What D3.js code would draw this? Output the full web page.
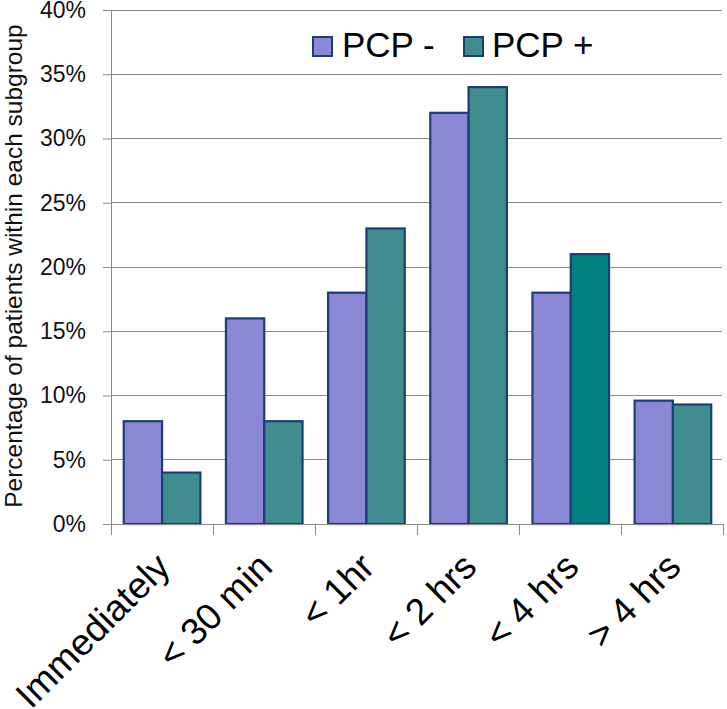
<!DOCTYPE html>
<html>
<head>
<meta charset="utf-8">
<script src="https://cdn.jsdelivr.net/npm/d3@7"></script>
<style>
  html, body { margin: 0; padding: 0; background: #fff; }
  svg { display: block; font-family: "Liberation Sans", Arial, sans-serif; }
</style>
</head>
<body>
<svg id="chart" width="727" height="709"></svg>
<script>
const categories = ["Immediately", "< 30 min", "< 1hr", "< 2 hrs", "< 4 hrs", "> 4 hrs"];
const seriesNames = ["PCP -", "PCP +"];
const pcpMinus = [8, 16, 18, 32, 18, 9.6];
const pcpPlus = [4, 8, 23, 34, 21, 9.3];
const yTicks = [0, 5, 10, 15, 20, 25, 30, 35, 40];
const yTitle = "Percentage of patients within each subgroup";

const colors = { "PCP -": "#8b88d6", "PCP +": "#3f8d8e" };
const highlightColor = "#008080";
const strokeColor = "#1b3f73";

const svg = d3.select("#chart");
const W = 727, H = 709;
const m = { left: 111, right: 3, top: 10, bottom: 185 };
const pw = W - m.left - m.right, ph = H - m.top - m.bottom;

const g = svg.append("g").attr("transform", `translate(${m.left},${m.top})`);

const x0 = d3.scaleBand().domain(categories).range([0, pw]).paddingInner(0.25).paddingOuter(0.125);
const x1 = d3.scaleBand().domain(seriesNames).range([0, x0.bandwidth()]).padding(0);
const y = d3.scaleLinear().domain([0, 40]).range([ph, 0]);

// gridlines
g.append("g").selectAll("line").data(yTicks.filter(d => d > 0)).join("line")
  .attr("x1", 0).attr("x2", pw - 2)
  .attr("y1", d => y(d)).attr("y2", d => y(d))
  .attr("stroke", "#8c8c8c").attr("stroke-width", 1).attr("shape-rendering", "crispEdges");

// y axis
const yAxis = g.append("g").call(d3.axisLeft(y).tickValues(yTicks).tickFormat(d => d + "%").tickSize(8).tickPadding(17));
yAxis.select(".domain").attr("stroke", "#8c8c8c");
yAxis.selectAll(".tick line").attr("stroke", "#8c8c8c");
yAxis.selectAll(".tick text").attr("font-size", 23).attr("fill", "#111").attr("font-family", "Liberation Sans, Arial, sans-serif");

// bars
const data = categories.map((c, i) => ({ cat: c, vals: [
  { s: "PCP -", v: pcpMinus[i] }, { s: "PCP +", v: pcpPlus[i] } ] }));

const groups = g.append("g").selectAll("g").data(data).join("g")
  .attr("transform", d => `translate(${x0(d.cat)},0)`);
groups.selectAll("rect").data(d => d.vals.map(v => ({ ...v, cat: d.cat }))).join("rect")
  .attr("x", d => x1(d.s))
  .attr("y", d => y(d.v))
  .attr("width", x1.bandwidth())
  .attr("height", d => y(0) - y(d.v))
  .attr("fill", d => (d.cat === "< 4 hrs" && d.s === "PCP +") ? highlightColor : colors[d.s])
  .attr("stroke", strokeColor).attr("stroke-width", 2.2);

// x axis
const xAxisG = g.append("g").attr("transform", `translate(0,${ph})`);
xAxisG.append("line").attr("x1", 0).attr("x2", pw).attr("y1", 0).attr("y2", 0)
  .attr("stroke", "#8c8c8c").attr("shape-rendering", "crispEdges");
const step = x0.step();
const boundaries = d3.range(categories.length + 1).map(i => i * step);
xAxisG.selectAll("line.tk").data(boundaries).join("line").attr("class", "tk")
  .attr("x1", d => Math.min(d, pw - 1)).attr("x2", d => Math.min(d, pw - 1))
  .attr("y1", 0).attr("y2", 11)
  .attr("stroke", "#8c8c8c").attr("shape-rendering", "crispEdges");

xAxisG.selectAll("text.lbl").data(categories).join("text").attr("class", "lbl")
  .attr("transform", d => `translate(${x0(d) + x0.bandwidth() / 2 + 10},45) rotate(-45)`)
  .attr("text-anchor", "end")
  .attr("font-size", 37)
  .attr("fill", "#000")
  .text(d => d);

// y title
svg.append("text")
  .attr("transform", `translate(22,${(20 + 512) / 2}) rotate(-90)`)
  .attr("text-anchor", "middle")
  .attr("font-size", 24.5)
  .attr("fill", "#111")
  .text(yTitle);

// legend
const legendItems = [
  { s: "PCP -", sx: 313, tx: 342 },
  { s: "PCP +", sx: 464, tx: 492 }
];
const lg = svg.append("g");
lg.selectAll("rect").data(legendItems).join("rect")
  .attr("x", d => d.sx).attr("y", 37).attr("width", 19).attr("height", 19)
  .attr("fill", d => colors[d.s]).attr("stroke", strokeColor).attr("stroke-width", 2);
lg.selectAll("text").data(legendItems).join("text")
  .attr("x", d => d.tx).attr("y", 56.5)
  .attr("font-size", 35).attr("fill", "#000")
  .text(d => d.s);
</script>
</body>
</html>
